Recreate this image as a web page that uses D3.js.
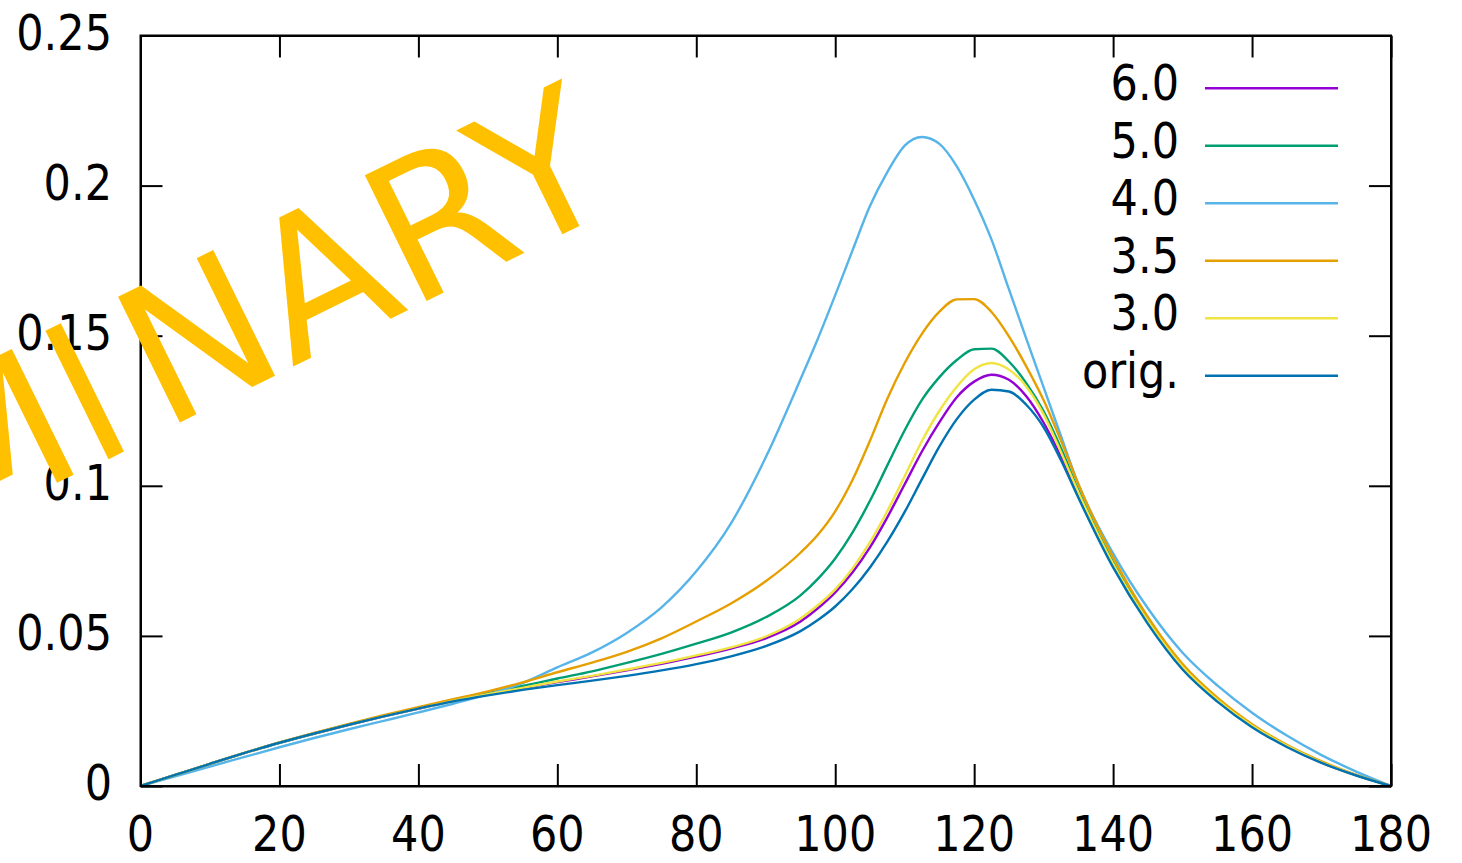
<!DOCTYPE html>
<html>
<head>
<meta charset="utf-8">
<script src="https://cdn.jsdelivr.net/npm/d3@7"></script>
<style>
  html, body { margin: 0; padding: 0; background: #fff; }
  svg { display: block; }
  text { font-family: "DejaVu Sans", Verdana, sans-serif; }
</style>
</head>
<body>
<svg id="chart" width="1462" height="863"></svg>
<script>
// ---------- data ----------
const angles = [0,5,10,15,20,25,30,35,40,45,50,55,60,65,70,75,80,85,90,95,97.5,100,102.5,105,107.5,110,112.5,115,117.5,120,122.5,125,127.5,130,132.5,135,140,145,150,155,160,165,170,175,180];

const s60 = [0,0.0037,0.0074,0.011,0.0144,0.0175,0.0204,0.0232,0.0258,0.0283,
             0.0305,0.0326,0.0346,0.0365,0.0385,0.0407,0.0431,0.0458,0.0492,0.0548,
             0.0592,0.0645,0.0712,0.0795,0.0895,0.1005,0.1115,0.1212,0.1295,0.1347,
             0.137,0.1353,0.1298,0.121,0.1097,0.0972,0.0737,0.0547,0.0393,0.0285,
             0.0199,0.0132,0.0078,0.0036,0];
const s50 = [0,0.0037,0.0074,0.011,0.0144,0.0175,0.0205,0.0233,0.026,0.0285,
             0.0309,0.0333,0.0358,0.0382,0.041,0.044,0.0474,0.0511,0.0562,0.0635,
             0.069,0.0758,0.0845,0.095,0.1068,0.1185,0.1287,0.1362,0.1419,0.1455,
             0.1457,0.1414,0.1342,0.1248,0.1125,0.0985,0.0745,0.0553,0.040,0.029,
             0.0203,0.0135,0.008,0.0036,0];
const s40 = [0,0.0032,0.0065,0.0097,0.0129,0.016,0.0189,0.0217,0.0245,0.0274,
             0.0305,0.0343,0.0395,0.0445,0.051,0.0595,0.0715,0.0875,0.1095,0.1355,
             0.149,0.1635,0.1785,0.1932,0.2045,0.2133,0.2162,0.2139,0.2064,0.1953,
             0.182,0.1655,0.149,0.1328,0.1165,0.1005,0.0775,0.0592,0.0444,0.0335,
             0.0244,0.0168,0.0103,0.0048,0];
const s35 = [0,0.0037,0.0074,0.011,0.0145,0.0177,0.0207,0.0236,0.0263,0.0289,
             0.0315,0.0345,0.0379,0.0411,0.0447,0.0492,0.0548,0.0608,0.0682,0.0777,
             0.0837,0.0915,0.102,0.115,0.129,0.1409,0.1507,0.158,0.1621,0.1622,
             0.1579,0.1498,0.1398,0.1285,0.115,0.1005,0.0762,0.0563,0.0406,0.0294,
             0.0206,0.0137,0.0082,0.0037,0];
const s30 = [0,0.0037,0.0074,0.011,0.0144,0.0175,0.0204,0.0232,0.0258,0.0283,
             0.0306,0.0327,0.0348,0.0367,0.0388,0.041,0.0435,0.0462,0.0498,0.0558,
             0.0602,0.0655,0.0725,0.0812,0.0916,0.1032,0.115,0.125,0.133,0.1388,
             0.1409,0.1387,0.1331,0.1238,0.1112,0.0978,0.074,0.0549,0.0396,0.0287,
             0.0201,0.0134,0.0079,0.0036,0];
const sOrig = [0,0.0037,0.0074,0.011,0.0144,0.0175,0.0204,0.0232,0.0258,0.0282,
             0.0302,0.032,0.0336,0.0351,0.0367,0.0385,0.0406,0.0432,0.0466,0.0516,
             0.0553,0.0598,0.0656,0.0728,0.0814,0.0913,0.1023,0.1131,0.1222,0.1287,
             0.132,0.1314,0.127,0.1195,0.1085,0.096,0.0728,0.054,0.0388,0.0281,
             0.0196,0.013,0.0077,0.0035,0];

const seriesNames  = ["6.0","5.0","4.0","3.5","3.0","orig."];
const seriesValues = [s60, s50, s40, s35, s30, sOrig];
const seriesColors = ["#9400d3","#009e73","#56b4e9","#e69f00","#f0e442","#0072b2"];

const xTicks = [0,20,40,60,80,100,120,140,160,180];
const yTicks = [0,0.05,0.1,0.15,0.2,0.25];
const yTickLabels = ["0","0.05","0.1","0.15","0.2","0.25"];
const watermarkParts = ["PRELIM","I","NARY"];

// ---------- layout ----------
const svg = d3.select("#chart");
const L = 140.5, R = 1391, T = 35.5, B = 786;
const x = d3.scaleLinear().domain([0,180]).range([L,R]);
const y = d3.scaleLinear().domain([0,0.25]).range([B,T]);
const FS = 50, SX = 0.86;

// curves
const line = d3.line().x(d => x(d[0])).y(d => y(d[1])).curve(d3.curveMonotoneX);
const gLines = svg.append("g");
seriesValues.forEach((vals, i) => {
  gLines.append("path")
    .datum(angles.map((a, k) => [a, vals[k]]))
    .attr("d", line)
    .attr("fill", "none")
    .attr("stroke", seriesColors[i])
    .attr("stroke-width", 2.4)
    .attr("stroke-linejoin", "round");
});

// axes (ticks inward, mirrored)
const tk = 22;
function styleAxis(g) {
  g.selectAll("path,line").attr("stroke", "#000").attr("stroke-width", 2);
  g.selectAll("text").remove();
}
svg.append("g").attr("transform", `translate(0,${B})`)
  .call(d3.axisBottom(x).tickValues(xTicks).tickSizeInner(-tk).tickSizeOuter(0)).call(styleAxis);
svg.append("g").attr("transform", `translate(0,${T})`)
  .call(d3.axisTop(x).tickValues(xTicks).tickSizeInner(-tk).tickSizeOuter(0)).call(styleAxis);
svg.append("g").attr("transform", `translate(${L},0)`)
  .call(d3.axisLeft(y).tickValues(yTicks).tickSizeInner(-tk).tickSizeOuter(0)).call(styleAxis);
svg.append("g").attr("transform", `translate(${R},0)`)
  .call(d3.axisRight(y).tickValues(yTicks).tickSizeInner(-tk).tickSizeOuter(0)).call(styleAxis);
svg.append("rect").attr("x", L).attr("y", T).attr("width", R - L).attr("height", B - T)
  .attr("fill", "none").attr("stroke", "#000").attr("stroke-width", 2);

// tick labels
xTicks.forEach(v => {
  svg.append("g").attr("transform", `translate(${x(v)},851) scale(${SX},1)`)
    .append("text").attr("text-anchor", "middle").attr("font-size", FS).attr("fill", "#000").text(v);
});
yTicks.forEach((v, i) => {
  svg.append("g").attr("transform", `translate(112,${y(v) + 14}) scale(${SX},1)`)
    .append("text").attr("text-anchor", "end").attr("font-size", FS).attr("fill", "#000").text(yTickLabels[i]);
});

// legend
seriesNames.forEach((n, i) => {
  const base = 100 + i * 57.5;
  svg.append("g").attr("transform", `translate(1179,${base}) scale(${SX},1)`)
    .append("text").attr("text-anchor", "end").attr("font-size", FS).attr("fill", "#000").text(n);
  svg.append("line").attr("x1", 1205).attr("x2", 1338)
    .attr("y1", base - 11.7).attr("y2", base - 11.7)
    .attr("stroke", seriesColors[i]).attr("stroke-width", 2.4);
});

// watermark (Verdana-like, serif "I" taken from the mono face)
const WMFS = 192, ang = 26.2, iAdv = 0.421 * WMFS;
const wm = svg.append("text")
  .attr("transform", `translate(623.6,204.1) rotate(${-ang})`)
  .attr("text-anchor", "end")
  .attr("font-size", WMFS)
  .attr("fill", "#FFC000");
wm.append("tspan").text(watermarkParts[0]);
wm.append("tspan").attr("dx", iAdv).text(watermarkParts[2]);
const iDist = 58.7 + (0.695 + 0.684 + 0.748) * WMFS + iAdv / 2;
const rad = ang * Math.PI / 180;
const ix = 571 - iDist * Math.cos(rad), iy = 230 + iDist * Math.sin(rad);
svg.append("text")
  .attr("transform", `translate(${ix},${iy}) rotate(${-ang}) scale(0.78,1)`)
  .attr("text-anchor", "middle")
  .attr("font-family", "DejaVu Sans Mono")
  .attr("font-size", WMFS)
  .attr("fill", "#FFC000")
  .attr("stroke", "#FFC000")
  .attr("stroke-width", 3)
  .text(watermarkParts[1]);
</script>
</body>
</html>
